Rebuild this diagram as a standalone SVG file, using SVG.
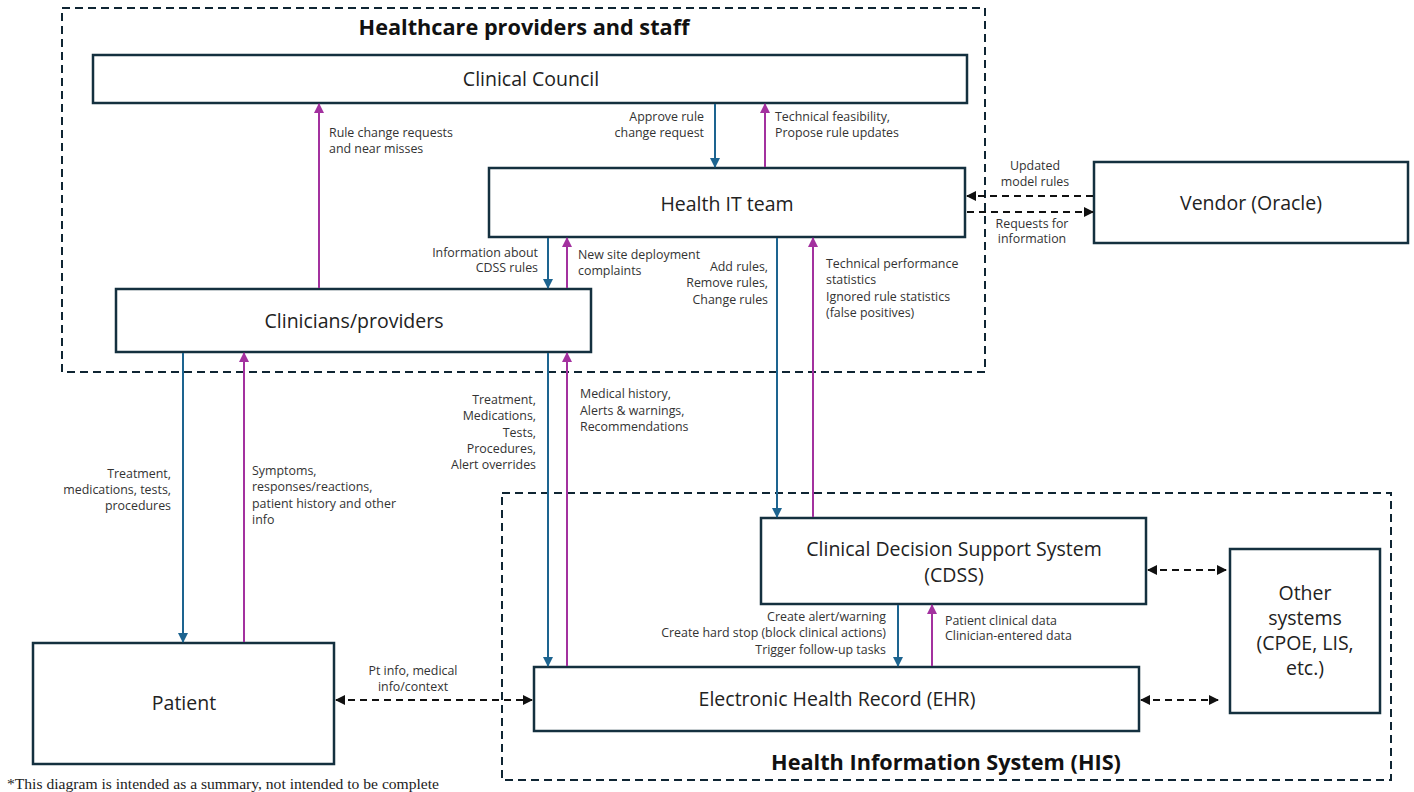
<svg xmlns="http://www.w3.org/2000/svg" width="1414" height="792" viewBox="0 0 1414 792">
<style>
.grp{fill:none;stroke:#0f2533;stroke-width:2;stroke-dasharray:8 5}
.box{fill:#fff;stroke:#14303f;stroke-width:2.5}
.nt{font-family:"Open Sans","Liberation Sans",Arial,sans-serif;font-size:19.5px;fill:#222;text-anchor:middle}
.ttl{font-family:"Open Sans","Liberation Sans",Arial,sans-serif;font-size:21.7px;font-weight:bold;fill:#111;text-anchor:middle}
.lb{font-family:"Open Sans","Liberation Sans",Arial,sans-serif;font-size:12.4px;fill:#333}
.r{text-anchor:end}
.m{text-anchor:middle}
.blue{stroke:#1d6490;stroke-width:2;fill:none}
.pink{stroke:#a3319f;stroke-width:2;fill:none}
.dsh{stroke:#111;stroke-width:2;stroke-dasharray:7 5;fill:none}
.foot{font-family:"Liberation Serif","Times New Roman",serif;font-size:15.6px;fill:#222}
</style>
<defs>
<marker id="ab" viewBox="0 0 10 10" refX="9" refY="5" markerWidth="5" markerHeight="5" orient="auto-start-reverse" markerUnits="strokeWidth"><path d="M0,0 L10,5 L0,10 z" fill="#1d6490"/></marker>
<marker id="ap" viewBox="0 0 10 10" refX="9" refY="5" markerWidth="5" markerHeight="5" orient="auto-start-reverse" markerUnits="strokeWidth"><path d="M0,0 L10,5 L0,10 z" fill="#a3319f"/></marker>
<marker id="ak" viewBox="0 0 10 10" refX="9" refY="5" markerWidth="5" markerHeight="5" orient="auto-start-reverse" markerUnits="strokeWidth"><path d="M0,0 L10,5 L0,10 z" fill="#111"/></marker>
</defs>

<g id="group-providers">
<rect class="grp" x="62" y="8" width="923" height="364"/>
<text class="ttl" x="524" y="35">Healthcare providers and staff</text>
</g>
<g id="group-his">
<rect class="grp" x="502" y="493" width="889" height="287"/>
<text class="ttl" x="946" y="770">Health Information System (HIS)</text>
</g>

<g id="clinical-council">
<rect class="box" x="93" y="55" width="874" height="48"/>
<text class="nt" x="531" y="86">Clinical Council</text>
</g>
<g id="health-it">
<rect class="box" x="489" y="168" width="476" height="69"/>
<text class="nt" x="727" y="211">Health IT team</text>
</g>
<g id="vendor">
<rect class="box" x="1094" y="162" width="314" height="81"/>
<text class="nt" x="1251" y="210">Vendor (Oracle)</text>
</g>
<g id="clinicians">
<rect class="box" x="116" y="289" width="475" height="63"/>
<text class="nt" x="354" y="328">Clinicians/providers</text>
</g>
<g id="cdss">
<rect class="box" x="761" y="518" width="385" height="86"/>
<text class="nt" x="954" y="556">Clinical Decision Support System</text>
<text class="nt" x="954" y="582">(CDSS)</text>
</g>
<g id="other-systems">
<rect class="box" x="1230" y="549" width="150" height="164"/>
<text class="nt" x="1305" y="600">Other</text>
<text class="nt" x="1305" y="625">systems</text>
<text class="nt" x="1305" y="650">(CPOE, LIS,</text>
<text class="nt" x="1305" y="675">etc.)</text>
</g>
<g id="ehr">
<rect class="box" x="534" y="667" width="605" height="64"/>
<text class="nt" x="837" y="706">Electronic Health Record (EHR)</text>
</g>
<g id="patient">
<rect class="box" x="33" y="643" width="301" height="121"/>
<text class="nt" x="184" y="710">Patient</text>
</g>

<g id="connectors">
<line class="pink" x1="319" y1="288" x2="319" y2="104" marker-end="url(#ap)"/>
<line class="blue" x1="715" y1="104" x2="715" y2="167" marker-end="url(#ab)"/>
<line class="pink" x1="765" y1="167" x2="765" y2="104" marker-end="url(#ap)"/>
<line class="blue" x1="548" y1="238" x2="548" y2="288" marker-end="url(#ab)"/>
<line class="pink" x1="567" y1="288" x2="567" y2="238" marker-end="url(#ap)"/>
<line class="blue" x1="777" y1="238" x2="777" y2="517" marker-end="url(#ab)"/>
<line class="pink" x1="813" y1="517" x2="813" y2="238" marker-end="url(#ap)"/>
<line class="dsh" x1="1093" y1="196" x2="967" y2="196" marker-end="url(#ak)"/>
<line class="dsh" x1="967" y1="212" x2="1093" y2="212" marker-end="url(#ak)"/>
<line class="blue" x1="183" y1="353" x2="183" y2="642" marker-end="url(#ab)"/>
<line class="pink" x1="244" y1="642" x2="244" y2="353" marker-end="url(#ap)"/>
<line class="blue" x1="548" y1="353" x2="548" y2="666" marker-end="url(#ab)"/>
<line class="pink" x1="567" y1="666" x2="567" y2="353" marker-end="url(#ap)"/>
<line class="blue" x1="898" y1="605" x2="898" y2="666" marker-end="url(#ab)"/>
<line class="pink" x1="932" y1="666" x2="932" y2="605" marker-end="url(#ap)"/>
<line class="dsh" x1="336" y1="700" x2="532" y2="700" marker-start="url(#ak)" marker-end="url(#ak)"/>
<line class="dsh" x1="1148" y1="570" x2="1226" y2="570" marker-start="url(#ak)" marker-end="url(#ak)"/>
<line class="dsh" x1="1141" y1="700" x2="1218" y2="700" marker-start="url(#ak)" marker-end="url(#ak)"/>

<text class="lb" x="329" y="137">Rule change requests</text>
<text class="lb" x="329" y="153">and near misses</text>
<text class="lb r" x="704" y="121">Approve rule</text>
<text class="lb r" x="704" y="137">change request</text>
<text class="lb" x="775" y="121">Technical feasibility,</text>
<text class="lb" x="775" y="137">Propose rule updates</text>
<text class="lb r" x="538" y="257">Information about</text>
<text class="lb r" x="538" y="272">CDSS rules</text>
<text class="lb" x="578" y="259">New site deployment</text>
<text class="lb" x="578" y="275">complaints</text>
<text class="lb r" x="768" y="271">Add rules,</text>
<text class="lb r" x="768" y="287">Remove rules,</text>
<text class="lb r" x="768" y="304">Change rules</text>
<text class="lb" x="826" y="268">Technical performance</text>
<text class="lb" x="826" y="284">statistics</text>
<text class="lb" x="826" y="301">Ignored rule statistics</text>
<text class="lb" x="826" y="317">(false positives)</text>
<text class="lb m" x="1035" y="170">Updated</text>
<text class="lb m" x="1035" y="186">model rules</text>
<text class="lb m" x="1032" y="228">Requests for</text>
<text class="lb m" x="1032" y="243">information</text>
<text class="lb r" x="171" y="478">Treatment,</text>
<text class="lb r" x="171" y="494">medications, tests,</text>
<text class="lb r" x="171" y="510">procedures</text>
<text class="lb" x="252" y="475">Symptoms,</text>
<text class="lb" x="252" y="491">responses/reactions,</text>
<text class="lb" x="252" y="508">patient history and other</text>
<text class="lb" x="252" y="524">info</text>
<text class="lb r" x="536" y="404">Treatment,</text>
<text class="lb r" x="536" y="420">Medications,</text>
<text class="lb r" x="536" y="437">Tests,</text>
<text class="lb r" x="536" y="453">Procedures,</text>
<text class="lb r" x="536" y="469">Alert overrides</text>
<text class="lb" x="580" y="398">Medical history,</text>
<text class="lb" x="580" y="415">Alerts &amp; warnings,</text>
<text class="lb" x="580" y="431">Recommendations</text>
<text class="lb r" x="886" y="621">Create alert/warning</text>
<text class="lb r" x="886" y="637">Create hard stop (block clinical actions)</text>
<text class="lb r" x="886" y="654">Trigger follow-up tasks</text>
<text class="lb" x="945" y="625">Patient clinical data</text>
<text class="lb" x="945" y="640">Clinician-entered data</text>
<text class="lb m" x="413" y="675">Pt info, medical</text>
<text class="lb m" x="413" y="691">info/context</text>
</g>

<text class="foot" x="7" y="789">*This diagram is intended as a summary, not intended to be complete</text>
</svg>
